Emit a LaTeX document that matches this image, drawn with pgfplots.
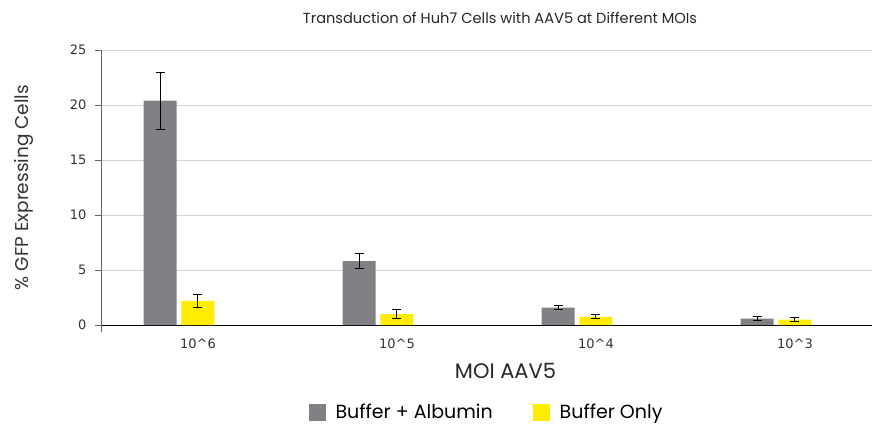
\documentclass[border=0pt]{standalone}
\usepackage{fontspec}
\setmainfont{Poppins}
\newfontfamily\tickfont{DejaVu Sans}
\usepackage{pgfplots}
\pgfplotsset{compat=1.18}

\definecolor{albgray}{RGB}{128,128,133}
\definecolor{bufyellow}{RGB}{255,237,0}
\definecolor{gridgray}{RGB}{210,210,210}
\definecolor{axgray}{RGB}{100,100,100}

% x: 0..3 = 10^6, 10^5, 10^4, 10^3 ; value, error
\pgfplotstableread{
x     y     e
-0.19 20.4  2.6
0.81  5.8   0.70
1.81  1.57  0.20
2.81  0.57  0.20
}\albumin
\pgfplotstableread{
x     y     e
0     2.2   0.60
1     1.0   0.45
2     0.75  0.20
3     0.48  0.20
}\bufonly

\begin{document}
\begin{tikzpicture}
\path[use as bounding box] (-101pt,-99pt) rectangle (771pt,325pt);
\begin{axis}[
    at={(0,0)}, anchor=south west,
    scale only axis,
    width=771pt, height=275pt,
    xmin=-0.487, xmax=3.387,
    ymin=0, ymax=25,
    ytick={0,5,...,25},
    xtick={0,1,2,3},
    xticklabels={10\string^6,10\string^5,10\string^4,10\string^3},
    x tick style={draw=none},
    y tick style={axgray, line width=0.8pt},
    tick align=outside,
    major tick length=6pt,
    axis x line*=bottom,
    axis y line*=left,
    x axis line style={black, line width=0.9pt},
    y axis line style={axgray, line width=0.9pt},
    ymajorgrids,
    major grid style={gridgray, line width=0.9pt},
    ticklabel style={font=\tickfont\fontsize{13}{15}\selectfont, text=black!80},
    yticklabel style={xshift=-5pt},
    xticklabel style={yshift=-4pt},
    /pgf/number format/assume math mode=true,
    xlabel={MOI AAV5},
    xlabel style={font=\fontsize{21}{24}\selectfont, text=black!85, xshift=19pt, yshift=-8pt},
    ylabel={\% GFP Expressing Cells},
    ylabel style={font=\fontsize{18.5}{21}\selectfont, text=black!80, yshift=30pt},
    ybar, bar width=33pt, bar shift=0pt,
    legend style={draw=none, at={(0.5,-0.318)}, anchor=center,
        font=\fontsize{19}{22}\selectfont, column sep=8pt,
        /tikz/every even column/.append style={column sep=38pt}},
    legend columns=2,
    legend image code/.code={\draw[#1, draw=none] (0pt,-8.5pt) rectangle (17pt,8.5pt);},
    clip=false,
]
\addplot[fill=albgray, draw=none,
    error bars/.cd, y dir=both, y explicit,
    error bar style={black, line width=1pt},
    error mark options={black, line width=1pt, mark size=4.5pt, rotate=90}]
    table[x=x, y=y, y error=e] {\albumin};
\addlegendentry{Buffer + Albumin}
\addplot[fill=bufyellow, draw=none,
    error bars/.cd, y dir=both, y explicit,
    error bar style={black, line width=1pt},
    error mark options={black, line width=1pt, mark size=4.5pt, rotate=90}]
    table[x=x, y=y, y error=e] {\bufonly};
\addlegendentry{Buffer Only}
\draw[axgray, line width=0.9pt] (rel axis cs:0,0) -- ([yshift=-7pt]rel axis cs:0,0);
\node[font=\fontsize{14.6}{17}\selectfont, text=black!85] at (399pt,307pt) {Transduction of Huh7 Cells with AAV5 at Different MOIs};
\end{axis}
\end{tikzpicture}
\end{document}
